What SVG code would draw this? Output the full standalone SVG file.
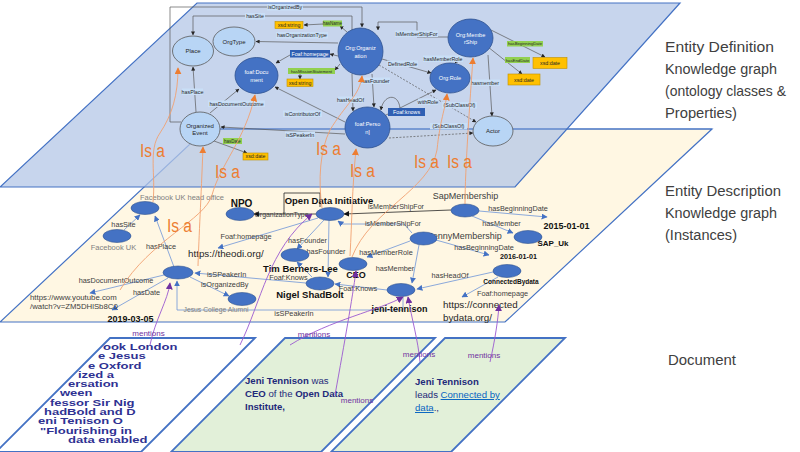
<svg xmlns="http://www.w3.org/2000/svg" width="800" height="452" viewBox="0 0 800 452">
<defs>
<style>
text{font-family:"Liberation Sans",Arial,sans-serif}
.title{font-size:15.5px;fill:#404040}
.pt{fill:#b4c7e7;fill-opacity:.75;stroke:#4472c4;stroke-width:1.2}
.pm{fill:#fff7e3;stroke:#4472c4;stroke-width:1.2}
.cl{fill:#b8d5f5;stroke:#595959;stroke-width:.8}
.cd{fill:#4472c4;stroke:#2f528f;stroke-width:.8}
.ct{font-size:6px;text-anchor:middle;fill:#262626}
.cw{font-size:5.6px;text-anchor:middle;fill:#fff}
.oe{fill:none;stroke:#595959;stroke-width:.7;marker-end:url(#ag)}
.od{fill:none;stroke:#595959;stroke-width:.7;stroke-dasharray:2 1.5;marker-end:url(#ag)}
.lb{fill:#c9dff7}
.lt{font-size:5.3px;text-anchor:middle;fill:#262626}
.gl{fill:#92d050}
.db{fill:#2f5fb3}
.xsd{fill:#ffc000;stroke:#bf9000;stroke-width:.6}
.in{fill:#4472c4;stroke:#2f528f;stroke-width:.6}
.ie{fill:none;stroke:#6d94d8;stroke-width:.8;marker-end:url(#ab)}
.ke{fill:none;stroke:#262626;stroke-width:.8;marker-end:url(#ak)}
.il{font-size:7.3px;fill:#404040}
.gt{font-size:7.5px;fill:#808080}
.bn{font-weight:bold;fill:#111;font-size:9px}
.url{font-size:9.8px;fill:#262626}
.isa{fill:none;stroke:#f0a070;stroke-width:.9;marker-end:url(#ao)}
.isat{font-size:18px;fill:#ed7d31}
.men{fill:none;stroke:#9b59d0;stroke-width:.9;marker-end:url(#ap)}
.mt{font-size:8px;fill:#7030a0}
.doc{font-weight:bold;font-size:13px;fill:#2e3192}
.pg{fill:#e2f0d9;stroke:#4472c4;stroke-width:1.8}
.pw{fill:#fff;stroke:#4472c4;stroke-width:1.8}
.dt{font-size:9.6px;fill:#1f2a7a}
</style>
<marker id="ag" viewBox="0 0 10 10" refX="9" refY="5" markerWidth="4" markerHeight="4" orient="auto" markerUnits="userSpaceOnUse"><path d="M0,0L10,5L0,10z" fill="#262626"/></marker>
<marker id="ab" viewBox="0 0 10 10" refX="9" refY="5" markerWidth="6" markerHeight="6" orient="auto" markerUnits="userSpaceOnUse"><path d="M0,0L10,5L0,10z" fill="#4472c4"/></marker>
<marker id="ak" viewBox="0 0 10 10" refX="9" refY="5" markerWidth="6" markerHeight="6" orient="auto" markerUnits="userSpaceOnUse"><path d="M0,0L10,5L0,10z" fill="#111"/></marker>
<marker id="ao" viewBox="0 0 10 10" refX="9" refY="5" markerWidth="7" markerHeight="7" orient="auto" markerUnits="userSpaceOnUse"><path d="M0,0L10,5L0,10z" fill="#ed7d31"/></marker>
<marker id="ap" viewBox="0 0 10 10" refX="9" refY="5" markerWidth="7" markerHeight="7" orient="auto" markerUnits="userSpaceOnUse"><path d="M0,0L10,5L0,10z" fill="#7030a0"/></marker>
<clipPath id="clip1"><polygon points="110,338 255,338 141,452 -4,452"/></clipPath>
</defs>

<!-- planes -->
<polygon class="pm" points="206,129 712,129 505,322 0,322"/>
<polygon class="pt" points="197,3 680,3 515,187 0,187"/>
<line x1="206" y1="129" x2="712" y2="129" stroke="#4472c4" stroke-width="1.2"/>

<!-- titles -->
<g id="titles" class="title">
<text x="665" y="52" textLength="109" lengthAdjust="spacingAndGlyphs">Entity Definition</text>
<text x="665" y="74" textLength="112" lengthAdjust="spacingAndGlyphs">Knowledge graph</text>
<text x="665" y="96" textLength="121" lengthAdjust="spacingAndGlyphs" style="font-size:15px">(ontology classes &amp;</text>
<text x="665" y="118" textLength="72" lengthAdjust="spacingAndGlyphs">Properties)</text>
<text x="665" y="196" textLength="116" lengthAdjust="spacingAndGlyphs">Entity Description</text>
<text x="665" y="218" textLength="112" lengthAdjust="spacingAndGlyphs">Knowledge graph</text>
<text x="665" y="240" textLength="72" lengthAdjust="spacingAndGlyphs">(Instances)</text>
<text x="668" y="365" textLength="68" lengthAdjust="spacingAndGlyphs">Document</text>
</g>

<!-- ontology connectors -->
<g id="onto-edges">
<path class="oe" d="M181,122H170V7H362V27" stroke="#8faadc"/>
<path class="oe" d="M352,30V16H193V35"/>
<path class="oe" d="M323,24L304,25"/>
<path class="oe" d="M347,32L340,26" marker-end="none"/>
<path class="oe" d="M338,43L256,41.5"/>
<path class="oe" d="M338,56L330,54" marker-end="none"/>
<path class="oe" d="M290,55L276,63"/>
<path class="oe" d="M340,64L335,70" marker-end="none"/>
<path class="oe" d="M300,74L300,79"/>
<path class="oe" d="M448,37H417V22H378V30"/>
<path class="oe" d="M463,55L455,63"/>
<path class="oe" d="M382,59L431,73"/>
<path class="oe" d="M488,55L492,116"/>
<path class="oe" d="M491,30L545,57"/>
<path class="oe" d="M488,47L522,74"/>
<path class="oe" d="M372,74L374,107"/>
<path class="oe" d="M352,74L353,111"/>
<path class="oe" d="M400,108C398,92 383,95 381,110"/>
<path class="oe" d="M384,116L436,90"/>
<path class="od" d="M379,65L476,122"/>
<path class="od" d="M389,138L473,133"/>
<path class="oe" d="M345,122L275,87"/>
<path class="oe" d="M345,134L221,127"/>
<path class="oe" d="M196,112L193,67"/>
<path class="oe" d="M210,113L239,89"/>
<path class="oe" d="M214,141L247,153"/>
</g>

<!-- ontology labels -->
<g id="onto-labels">
<rect class="lb" x="267" y="4" width="36" height="6.5"/><text class="lt" x="285" y="9">isOrganizedBy</text>
<rect class="lb" x="245" y="13" width="20" height="6.5"/><text class="lt" x="255" y="18">hasSite</text>
<rect class="gl" x="323" y="20.5" width="19" height="6"/><text class="lt" x="332.5" y="25" style="font-size:4.5px">hasName</text>
<rect class="xsd" x="275" y="21.5" width="28" height="7"/><text class="lt" x="289" y="26.8">xsd:string</text>
<rect class="lb" x="276" y="32" width="52" height="6.5"/><text class="lt" x="302" y="37">hasOrganizationType</text>
<rect class="db" x="290" y="50" width="40" height="7.5"/><text class="lt" x="310" y="55.5" style="fill:#fff">Foaf:homepage</text>
<rect class="gl" x="288" y="68" width="47" height="6"/><text class="lt" x="311.5" y="72.5" style="font-size:4.3px">hasMissionStatement</text>
<rect class="xsd" x="287" y="79" width="26" height="7.5"/><text class="lt" x="300" y="84.5">xsd:string</text>
<rect class="lb" x="395" y="30.5" width="43" height="6.5"/><text class="lt" x="416.5" y="35.5">IsMemberShipFor</text>
<rect class="lb" x="423" y="55.5" width="40" height="6.5"/><text class="lt" x="443" y="60.5">hasMemberRole</text>
<rect class="lb" x="387" y="60.5" width="31" height="6.5"/><text class="lt" x="402.5" y="65.5">DefinedRole</text>
<rect class="lb" x="470" y="79.5" width="30" height="6.5"/><text class="lt" x="485" y="84.5">hasmember</text>
<rect class="lb" x="361" y="77.5" width="29" height="6.5"/><text class="lt" x="375.5" y="82.5">hasFounder</text>
<rect class="lb" x="338" y="96.5" width="25" height="6.5"/><text class="lt" x="350.5" y="101.5">hasHeadOf</text>
<rect class="db" x="388" y="108" width="37" height="8"/><text class="lt" x="406.5" y="113.8" style="fill:#fff">Foaf:knows</text>
<rect class="lb" x="418" y="98.5" width="20" height="6.5"/><text class="lt" x="428" y="103.5">withRole</text>
<rect class="lb" x="442" y="102" width="35" height="6.5"/><text class="lt" x="459.5" y="107">(SubClassOf)</text>
<rect class="lb" x="430" y="123" width="37" height="6.5"/><text class="lt" x="448.5" y="128">(SubClassOf)</text>
<rect class="lb" x="182" y="88.5" width="21" height="6.5"/><text class="lt" x="192.5" y="93.5">hasPlace</text>
<rect class="lb" x="208" y="100.5" width="57" height="6.5"/><text class="lt" x="236.5" y="105.5">hasDocumentOutcome</text>
<rect class="lb" x="283" y="110.5" width="39" height="6.5"/><text class="lt" x="302.5" y="115.5">isContributorOf</text>
<rect class="lb" x="285" y="131.5" width="30" height="6.5"/><text class="lt" x="300" y="136.5">isSPeakerIn</text>
<rect class="gl" x="223" y="138" width="19" height="6"/><text class="lt" x="232.5" y="142.5" style="font-size:4.5px">hasDate</text>
<rect class="xsd" x="243" y="153" width="25" height="7"/><text class="lt" x="255.5" y="158.3">xsd:date</text>
<rect class="gl" x="507" y="41" width="36" height="5.5"/><text class="lt" x="525" y="45.2" style="font-size:4.2px">hasBeginningDate</text>
<rect class="xsd" x="533" y="57.5" width="34" height="11"/><text class="lt" x="550" y="65">xsd:date</text>
<rect class="gl" x="505" y="57" width="25" height="6"/><text class="lt" x="517.5" y="61.5" style="font-size:4.3px">hasEndDate</text>
<rect class="xsd" x="508" y="74" width="32" height="11"/><text class="lt" x="524" y="81.5">xsd:date</text>
</g>

<!-- ontology classes -->
<g id="c-place"><ellipse class="cl" cx="193" cy="51" rx="20.5" ry="15"/><text class="ct" x="193" y="53">Place</text></g>
<g id="c-orgtype"><ellipse class="cl" cx="234" cy="41.5" rx="21" ry="14.5"/><text class="ct" x="234" y="43.5">OrgType</text></g>
<g id="c-document"><ellipse class="cd" cx="256.5" cy="75.5" rx="21.5" ry="18"/><text class="cw" x="256.5" y="74">foaf:Docu</text><text class="cw" x="256.5" y="81.5">ment</text></g>
<g id="c-organization"><ellipse class="cd" cx="360.5" cy="51.5" rx="22.5" ry="23.5"/><text class="cw" x="360.5" y="50">Org:Organiz</text><text class="cw" x="360.5" y="57.5">ation</text></g>
<g id="c-membership"><ellipse class="cd" cx="470.5" cy="38" rx="22.5" ry="19"/><text class="cw" x="470.5" y="36.5">Org:Membe</text><text class="cw" x="470.5" y="44">rShip</text></g>
<g id="c-role"><ellipse class="cd" cx="450" cy="78" rx="20" ry="15"/><text class="cw" x="450" y="80">Org:Role</text></g>
<g id="c-person"><ellipse class="cd" cx="367.5" cy="127.5" rx="22.5" ry="20.5"/><text class="cw" x="367.5" y="126">foaf:Perso</text><text class="cw" x="367.5" y="133.5">n]</text></g>
<g id="c-event"><ellipse class="cl" cx="200" cy="129" rx="20" ry="17"/><text class="ct" x="200" y="127.5">Organized</text><text class="ct" x="200" y="135">Event</text></g>
<g id="c-actor"><ellipse class="cl" cx="493" cy="131" rx="20" ry="15"/><text class="ct" x="493" y="133">Actor</text></g>

<!-- instance connectors -->
<g id="inst-edges">
<path class="ie" d="M124,230L140,215"/>
<path class="ie" d="M174,267L155,216"/>
<path class="ie" d="M164,275L90,293"/>
<path class="ie" d="M168,278L112,310"/>
<path class="ie" d="M306,283L195,273"/>
<path class="ie" d="M190,277L229,296"/>
<path class="ie" d="M403,296V310H177V281"/>
<path class="ke" d="M316,214L254,214"/>
<path d="M284,214V193H320V207" fill="none" stroke="#262626" stroke-width=".8"/>
<path class="ke" d="M451,210L344,214"/>
<path class="ie" d="M412,233L404,224H342L338,221"/>
<path class="ie" d="M318,218L218,248"/>
<path class="ie" d="M324,220L297,249"/>
<path class="ie" d="M329,220L328,277"/>
<path class="ie" d="M312,277L297,262"/>
<path class="ie" d="M387,290L335,284"/>
<path class="ie" d="M410,241L367,257"/>
<path class="ie" d="M419,245L412,283"/>
<path class="ie" d="M493,272L417,289"/>
<path class="ie" d="M498,277L462,297"/>
<path class="ie" d="M479,211L547,217"/>
<path class="ie" d="M472,216L513,233"/>
<path class="ie" d="M436,240L489,255"/>
</g>

<!-- instance labels -->
<g id="inst-labels">
<text class="gt" x="182" y="200" text-anchor="middle">Facebook UK head office</text>
<text class="gt" x="113.5" y="250" text-anchor="middle">Facebook UK</text>
<text class="gt" x="216" y="311.5" text-anchor="middle" style="font-size:6.8px">Jesus College Alumni</text>
<text class="il" x="123.5" y="226.5" text-anchor="middle">hasSite</text>
<text class="il" x="161" y="248.5" text-anchor="middle">hasPlace</text>
<text class="il" x="116" y="282.5" text-anchor="middle">hasDocumentOutcome</text>
<text class="il" x="146.5" y="294.5" text-anchor="middle">hasDate</text>
<text class="il" x="30" y="300" style="font-size:7.8px">https://www.youtube.com</text>
<text class="il" x="30" y="309" style="font-size:7.8px">/watch?v=ZM5DHlSb8C0</text>
<text class="bn" x="130.5" y="322" text-anchor="middle">2019-03-05</text>
<text class="il" x="207" y="276.5">isSPeakerIn</text>
<text class="il" x="201" y="286.5">isOrganizedBy</text>
<text class="il" x="294" y="316" text-anchor="middle">isSPeakerIn</text>
<text class="il" x="288.5" y="280" text-anchor="middle">Foaf:Knows</text>
<text class="il" x="358" y="290.5" text-anchor="middle">Foaf:Knows</text>
<text class="bn" x="310" y="297.5" text-anchor="middle" style="font-size:9.5px">Nigel ShadBolt</text>
<text class="bn" x="300.5" y="271.5" text-anchor="middle" style="font-size:9.5px">Tim Berners-Lee</text>
<text class="bn" x="356" y="277.5" text-anchor="middle">CEO</text>
<text class="bn" x="399.5" y="312" text-anchor="middle">jeni-tennison</text>
<text class="il" x="395" y="270.5" text-anchor="middle">hasMember</text>
<text class="il" x="386" y="254.5" text-anchor="middle">hasMemberRole</text>
<text class="il" x="307.5" y="243" text-anchor="middle">hasFounder</text>
<text class="il" x="326" y="254" text-anchor="middle">hasFounder</text>
<text class="il" x="246" y="239" text-anchor="middle">Foaf:homepage</text>
<text class="url" x="188" y="256.5">https://theodi.org/</text>
<text class="il" x="281.5" y="216.5" text-anchor="middle" style="font-size:6.9px">OrganizationType</text>
<text class="bn" x="241.5" y="207" text-anchor="middle" style="font-size:10px">NPO</text>
<text class="bn" x="329" y="204" text-anchor="middle" style="font-size:9.5px">Open Data Initiative</text>
<text class="il" x="368" y="208.5" style="font-size:7.1px">isMemberShipFor</text>
<text class="il" x="365" y="225.5" style="font-size:7.1px">isMemberShipFor</text>
<text class="il" x="465.5" y="198.5" text-anchor="middle" style="font-size:9px">SapMembership</text>
<text class="il" x="518" y="210.5" text-anchor="middle">hasBeginningDate</text>
<text class="bn" x="566.5" y="229" text-anchor="middle">2015-01-01</text>
<text class="il" x="501.5" y="225.5" text-anchor="middle">hasMember</text>
<text class="bn" x="553" y="246" text-anchor="middle" style="font-size:8px">SAP_Uk</text>
<text class="il" x="465" y="238.5" text-anchor="middle" style="font-size:9px">JennyMembership</text>
<text class="il" x="484" y="250" text-anchor="middle">hasBeginningDate</text>
<text class="bn" x="518.5" y="259" text-anchor="middle" style="font-size:7.2px">2016-01-01</text>
<text class="bn" x="511" y="284" text-anchor="middle" style="font-size:6.5px">ConnectedBydata</text>
<text class="il" x="450" y="278" text-anchor="middle">hasHeadOf</text>
<text class="il" x="502.5" y="295.5" text-anchor="middle">Foaf:homepage</text>
<text class="url" x="443" y="308">https://connected</text>
<text class="url" x="443" y="320.5">bydata.org/</text>
</g>

<!-- instance nodes -->
<g id="i-headoffice"><ellipse class="in" cx="145" cy="208" rx="14" ry="6.5"/></g>
<g id="i-facebookuk"><ellipse class="in" cx="117" cy="236" rx="14" ry="6.5"/></g>
<g id="i-event"><ellipse class="in" cx="178" cy="272.5" rx="15" ry="6.5"/></g>
<g id="i-npo"><ellipse class="in" cx="240" cy="214" rx="14" ry="6.5"/></g>
<g id="i-odi"><ellipse class="in" cx="330" cy="214" rx="14" ry="6.5"/></g>
<g id="i-tim"><ellipse class="in" cx="295" cy="255" rx="14" ry="6.5"/></g>
<g id="i-ceo"><ellipse class="in" cx="353" cy="264" rx="14" ry="6.5"/></g>
<g id="i-nigel"><ellipse class="in" cx="320" cy="283.5" rx="14" ry="6.5"/></g>
<g id="i-jesus"><ellipse class="in" cx="242" cy="299" rx="14" ry="6.5"/></g>
<g id="i-sapmembership"><ellipse class="in" cx="465" cy="210.5" rx="14" ry="6.5"/></g>
<g id="i-sapuk"><ellipse class="in" cx="528" cy="237" rx="14" ry="6.5"/></g>
<g id="i-jenny"><ellipse class="in" cx="423.5" cy="238.5" rx="13.5" ry="6.5"/></g>
<g id="i-connectedbydata"><ellipse class="in" cx="507" cy="271" rx="14" ry="6.5"/></g>
<g id="i-jeni"><ellipse class="in" cx="401" cy="290" rx="14" ry="6.5"/></g>

<!-- Is a links -->
<g id="isa-links">
<path class="isa" d="M153,202C156,175 148,150 160,133C172,115 178,95 178,68"/>
<path class="isa" d="M198,266C199,235 201,200 203,147"/>
<path class="isa" d="M120,290C150,240 205,220 212,195C220,165 245,140 255,95"/>
<path class="isa" d="M322,208C318,180 320,150 330,130C345,105 360,95 362,76"/>
<path class="isa" d="M350,256C352,220 352,190 356,149"/>
<path class="isa" d="M352,257C370,210 430,190 437,150C440,120 445,110 447,94"/>
<path class="isa" d="M465,204C465,170 470,100 473,58"/>
<g class="isat">
<text x="140" y="157" textLength="25" lengthAdjust="spacingAndGlyphs">Is a</text>
<text x="215" y="178" textLength="25" lengthAdjust="spacingAndGlyphs">Is a</text>
<text x="316" y="155" textLength="25" lengthAdjust="spacingAndGlyphs">Is a</text>
<text x="350" y="177" textLength="25" lengthAdjust="spacingAndGlyphs">Is a</text>
<text x="414" y="168" textLength="25" lengthAdjust="spacingAndGlyphs">Is a</text>
<text x="447" y="168" textLength="25" lengthAdjust="spacingAndGlyphs">Is a</text>
<text x="167" y="232" textLength="25" lengthAdjust="spacingAndGlyphs">Is a</text>
</g>
</g>

<!-- documents -->
<g id="doc1">
<polygon class="pw" points="110,338 255,338 141,452 -4,452"/>
<g clip-path="url(#clip1)">
<g class="doc" transform="matrix(1,0,0,0.75,0,87.5)">
<text x="103" y="350">ook London</text>
<text x="98" y="362.4">e Jesus</text>
<text x="88" y="374.8">e Oxford</text>
<text x="78" y="387.2">ized a</text>
<text x="68" y="399.6">ersation</text>
<text x="60" y="412">ween</text>
<text x="50" y="424.4">fessor Sir Nig</text>
<text x="44" y="436.8">hadBold and D</text>
<text x="38" y="449.2">eni Tenison O</text>
<text x="40" y="461.6">"Flourishing in</text>
<text x="68" y="474">data enabled</text>
</g>
</g>
</g>
<g id="doc2">
<polygon class="pg" points="285,338 435,338 321,452 171,452"/>
<text class="dt" x="245" y="384"><tspan font-weight="bold">Jeni Tennison</tspan> was</text>
<text class="dt" x="245" y="397"><tspan font-weight="bold">CEO</tspan> of the <tspan font-weight="bold">Open Data</tspan></text>
<text class="dt" x="245" y="410" font-weight="bold">Institute,</text>
</g>
<g id="doc3">
<polygon class="pg" points="445,338 565,338 451,452 331,452"/>
<text class="dt" x="415" y="385" font-weight="bold">Jeni Tennison</text>
<text class="dt" x="415" y="398">leads <tspan fill="#0563c1" text-decoration="underline">Connected by</tspan></text>
<text class="dt" x="415" y="411"><tspan fill="#0563c1" text-decoration="underline">data</tspan>.,</text>
</g>

<!-- mentions -->
<g id="mentions">
<path class="men" d="M150,345C155,320 168,300 170,283"/>
<path class="men" d="M240,345C262,300 268,250 312,214"/>
<path class="men" d="M290,345C330,320 380,310 403,297"/>
<path class="men" d="M335,395C345,340 352,300 356,271"/>
<path class="men" d="M420,362C418,340 412,320 408,297"/>
<path class="men" d="M490,362C495,340 498,320 499,305"/>
<text class="mt" x="148.5" y="336" text-anchor="middle">mentions</text>
<text class="mt" x="314" y="337" text-anchor="middle">mentions</text>
<text class="mt" x="419" y="357" text-anchor="middle">mentions</text>
<text class="mt" x="484" y="358" text-anchor="middle">mentions</text>
<text class="mt" x="357" y="403" text-anchor="middle">mentions</text>
</g>
</svg>
